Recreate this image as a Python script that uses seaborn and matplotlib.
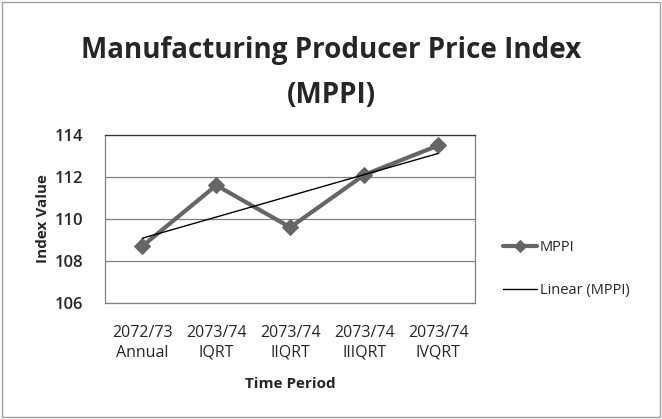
import numpy as np
import pandas as pd
import matplotlib
matplotlib.use("Agg")
import matplotlib.pyplot as plt
import seaborn as sns

# Data
periods = ["2072/73\nAnnual", "2073/74\nIQRT", "2073/74\nIIQRT", "2073/74\nIIIQRT", "2073/74\nIVQRT"]
mppi = [108.7, 111.6, 109.6, 112.1, 113.5]

df = pd.DataFrame({"period": periods, "mppi": mppi, "pos": range(len(periods))})

# Linear trend like Excel's trendline
coef = np.polyfit(df["pos"], df["mppi"], 1)
df["trend"] = np.polyval(coef, df["pos"])

sns.set_style("white")
plt.rcParams["font.family"] = ["Open Sans", "DejaVu Sans"]

fig = plt.figure(figsize=(6.62, 4.19), dpi=100)
ax = fig.add_axes([0.159, 0.277, 0.559, 0.401])

sns.lineplot(data=df, x="pos", y="mppi", ax=ax, color="#666666", linewidth=3,
             marker="D", markersize=8, markeredgecolor="#666666", label="MPPI", zorder=3)
sns.lineplot(data=df, x="pos", y="trend", ax=ax, color="black", linewidth=1,
             label="Linear (MPPI)", zorder=4)

ax.set_xlim(-0.5, 4.5)
ax.set_ylim(106, 114)
ax.set_yticks([106, 108, 110, 112, 114])
ax.set_xticks(df["pos"])
ax.set_xticklabels(periods, fontsize=11.5, linespacing=1.3)
ax.tick_params(axis="y", labelsize=12, length=0, pad=16)
ax.tick_params(axis="x", length=0, pad=16)
for t in ax.get_yticklabels():
    t.set_fontweight("semibold")
ax.grid(axis="y", color="#808080", linewidth=0.9)
ax.set_axisbelow(True)
for s in ax.spines.values():
    s.set_color("#808080")
    s.set_linewidth(0.9)
ax.spines["top"].set_color("#333333")

ax.set_xlabel("Time Period", fontsize=11, fontweight="bold", labelpad=12)
ax.set_ylabel("Index Value", fontsize=11, fontweight="bold", labelpad=3)

fig.text(0.5, 0.88, "Manufacturing Producer Price Index", ha="center", va="center",
         fontsize=20, fontweight="bold")
fig.text(0.5, 0.772, "(MPPI)", ha="center", va="center", fontsize=20, fontweight="bold")

leg = ax.legend(loc="center left", bbox_to_anchor=(1.04, 0.2), frameon=False,
                fontsize=10.5, handlelength=2.3, labelspacing=1.9, handletextpad=0.2)
leg.legend_handles[0].set_markersize(6)

fig.patches.append(plt.Rectangle((0.003, 0.005), 0.994, 0.99, transform=fig.transFigure,
                                 fill=False, edgecolor="#a0a0a0", linewidth=1))

fig.savefig("out.png", dpi=100)
